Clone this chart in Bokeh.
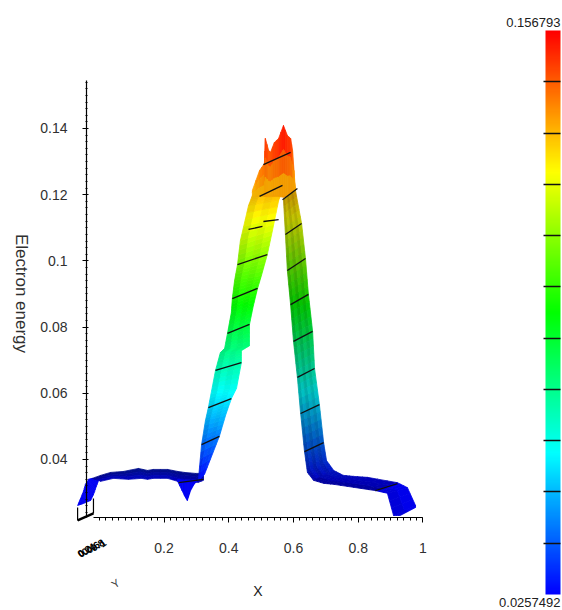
import numpy as np
from bokeh.embed import file_html
from bokeh.models import (ColorBar, FixedTicker, Label, LinearAxis, LinearColorMapper, Range1d)
from bokeh.core.properties import value
from bokeh.plotting import figure
from bokeh.resources import INLINE

# ---- chart values -----------------------------------------------------------
value_min, value_max = 0.0257492, 0.156793
x_ticks = [0.2, 0.4, 0.6, 0.8, 1]
x_tick_labels = ["0.2", "0.4", "0.6", "0.8", "1"]
y_ticks = [0.04, 0.06, 0.08, 0.1, 0.12, 0.14]
y_tick_labels = ["0.04", "0.06", "0.08", "0.1", "0.12", "0.14"]
depth_tick_labels = ["0", "0.2", "0.4", "0.6", "0.8", "1"]
depth_x = [-0.058, -0.046, -0.034, -0.020, -0.006, 0.010]
depth_e = [0.0118, 0.0124, 0.0130, 0.0136, 0.0142, 0.0148]

# each strip: front/back edge of the surface (X, projected energy), one pair per column
tail_ax = [-.067, -.058, -.049, -.043, -.033, -.021]
tail_ae = [.0261, .0282, .0303, .0324, .0340, .0343]
tail_bx = [-.058, -.043, -.027, -.018, -.009, -.002]
tail_be = [.0264, .0270, .0276, .0294, .0319, .0337]

flat_ax = [-.021, .004, .035, .075, .121, .149, .167, .211, .242, .263, .297, .322]
flat_ae = [.0343, .0352, .0361, .0364, .0373, .0367, .0370, .0370, .0364, .0361, .0358, .0358]
flat_bx = [-.002, .004, .044, .090, .130, .149, .167, .211, .242, .263, .306, .322]
flat_be = [.0337, .0334, .0343, .0340, .0343, .0340, .0343, .0343, .0334, .0330, .0331, .0337]

dip_ax = [.242, .263, .272, .282, .291, .300]
dip_ae = [.0340, .0337, .0337, .0337, .0337, .0337]
dip_bx = [.242, .263, .272, .282, .291, .300]
dip_be = [.0334, .0291, .0276, .0306, .0322, .0334]

rise_ax = [.306, .316, .328, .337, .347, .359, .374, .387, .396, .408, .411, .418, .427, .436, .461, .473]
rise_ae = [.0337, .0445, .0518, .0557, .0608, .0669, .0723, .0735, .0781, .0844, .0886, .0941, .0989, .1062, .1167, .1198]
rise_bx = [.325, .371, .390, .408, .424, .439, .439, .464, .464, .476, .489, .501, .519, .535, .554, .560]
rise_be = [.0355, .0470, .0533, .0584, .0615, .0693, .0729, .0744, .0808, .0865, .0917, .0956, .1019, .1092, .1182, .1198]

peak_x = [.473, .495, .510, .513, .523, .529, .541, .554, .569, .581, .591, .597, .606]
peak_top = [.1213, .1273, .1294, .1370, .1334, .1328, .1358, .1370, .1409, .1379, .1370, .1334, .1213]
peak_low = [.1195, .1195, .1195, .1195, .1195, .1195, .1195, .1195, .1192, .1195, .1201, .1207, .1213]

fall_ax = [.569, .575, .581, .591, .600, .612, .622, .634, .643, .662]
fall_ae = [.1185, .1080, .0971, .0868, .0757, .0648, .0539, .0424, .0361, .0337]
fall_bx = [.606, .625, .637, .646, .659, .665, .680, .693, .702, .724]
fall_be = [.1213, .1113, .1007, .0899, .0787, .0675, .0566, .0451, .0397, .0367]

tailr_ax = [.662, .693, .724, .785, .853]
tailr_ae = [.0337, .0328, .0325, .0316, .0306]
tailr_bx = [.724, .754, .785, .829, .921]
tailr_be = [.0367, .0352, .0349, .0346, .0330]

end_ax = [.853, .890, .909, .930]
end_ae = [.0306, .0298, .0231, .0231]
end_bx = [.921, .952, .977, .977]
end_be = [.0330, .0315, .0261, .0255]

# black iso-energy lines across the surface
contour_x0 = [.316, .337, .359, .396, .411, .427, .461, .507, .495, .507, .566, .575, .581, .591, .600, .612, .622, .634, .245, .853]
contour_e0 = [.0445, .0557, .0669, .0781, .0886, .0989, .1095, .1119, .1195, .1291, .1185, .1080, .0971, .0868, .0757, .0648, .0539, .0424, .0330, .0306]
contour_x1 = [.371, .408, .439, .464, .489, .519, .504, .554, .566, .591, .612, .625, .637, .646, .659, .665, .680, .693, .322, .921]
contour_e1 = [.0470, .0584, .0693, .0808, .0917, .1019, .1104, .1125, .1228, .1328, .1219, .1113, .1007, .0899, .0787, .0675, .0566, .0451, .0340, .0327]

# ---- palette and colours ----------------------------------------------------
stops = np.array([[0, 0, 255], [0, 255, 255], [0, 255, 0], [255, 255, 0], [255, 0, 0]], float)
s = np.linspace(0, 4, 256)
rgb = np.array([np.interp(s, range(5), stops[:, c]) for c in range(3)]).T
palette = ["#%02x%02x%02x" % tuple(int(round(v)) for v in c) for c in rgb]


def colour(e, shade):
    t = np.clip((e - 0.0337) / 0.1057, 0, 1)      # projected height -> position on the colour scale
    c = rgb[int(t * 255)] * shade
    return "#%02x%02x%02x" % tuple(int(round(v)) for v in c)


xs, ys, fills = [], [], []


def strip(ax, ae, bx, be, shades, n_along=5):
    ax, ae, bx, be = map(np.asarray, (ax, ae, bx, be))
    m = len(shades)
    for i in range(len(ax) - 1):
        n = n_along
        for k in range(n):
            u0, u1 = k / n, (k + 1) / n
            for j in range(m):
                v0, v1 = j / m, (j + 1) / m
                def pt(u, v):
                    xa = ax[i] + (ax[i + 1] - ax[i]) * u
                    ea = ae[i] + (ae[i + 1] - ae[i]) * u
                    xb = bx[i] + (bx[i + 1] - bx[i]) * u
                    eb = be[i] + (be[i + 1] - be[i]) * u
                    return xa + (xb - xa) * v, ea + (eb - ea) * v
                q = [pt(u0, v0), pt(u1, v0), pt(u1, v1), pt(u0, v1)]
                xs.append([a for a, _ in q])
                ys.append([b for _, b in q])
                fills.append(colour(np.mean([b for _, b in q]), shades[j]))


strip(tail_ax, tail_ae, tail_bx, tail_be, [0.95])
strip(flat_ax, flat_ae, flat_bx, flat_be, [0.55, 0.62, 0.72], n_along=2)
strip(dip_ax, dip_ae, dip_bx, dip_be, [0.95], n_along=3)
strip(rise_ax, rise_ae, rise_bx, rise_be, [0.92, 1.0, 0.97, 1.0])
strip(peak_x, peak_top, peak_x, peak_low, [1.0, 0.97, 0.95], n_along=2)
strip(fall_ax, fall_ae, fall_bx, fall_be, [0.68, 0.76, 0.68, 0.76, 0.70, 0.78])
strip(tailr_ax, tailr_ae, tailr_bx, tailr_be, [0.62, 0.7, 0.72], n_along=3)
strip(end_ax, end_ae, end_bx, end_be, [0.85, 0.92], n_along=3)

# ---- figure -----------------------------------------------------------------
p = figure(width=562, height=610, output_backend="svg", toolbar_location=None,
           x_axis_type=None, y_axis_type=None, min_border=0,
           x_range=Range1d(-0.3052, 1.4310), y_range=Range1d(-0.00562, 0.17867))
p.grid.visible = False
p.outline_line_color = None
p.background_fill_color = "white"

p.patches(xs, ys, fill_color=fills, line_color=fills, line_width=0.8)
p.segment(contour_x0, contour_e0, contour_x1, contour_e1, line_color="#101010", line_width=1.3)

# y axis
y_axis = LinearAxis(fixed_location=-0.0395, bounds=(0.0225, 0.1545),
                    ticker=FixedTicker(ticks=y_ticks, minor_ticks=list(np.arange(0.024, 0.155, 0.002))),
                    major_label_overrides=dict(zip(y_ticks, y_tick_labels)))
y_axis.major_tick_in, y_axis.major_tick_out = 2, 4
y_axis.minor_tick_in, y_axis.minor_tick_out = 1, 1
y_axis.major_label_standoff = 15
y_axis.major_label_text_font = "Liberation Sans"
y_axis.major_label_text_font_size = "14px"
y_axis.major_label_text_color = "#303030"
y_axis.axis_line_width = 1.2
p.add_layout(y_axis, "left")

# x axis
x_axis = LinearAxis(fixed_location=0.0225, bounds=(-0.018, 1),
                    ticker=FixedTicker(ticks=x_ticks, minor_ticks=list(np.arange(0, 1.001, 0.02))),
                    major_label_overrides=dict(zip(x_ticks, x_tick_labels)),
                    axis_label="X")
x_axis.major_tick_in, x_axis.major_tick_out = 0, 5
x_axis.minor_tick_in, x_axis.minor_tick_out = 0, 3
x_axis.major_label_standoff = 21
x_axis.major_label_text_font = "Liberation Sans"
x_axis.major_label_text_font_size = "14px"
x_axis.major_label_text_color = "#303030"
x_axis.axis_label_text_font = "Liberation Sans"
x_axis.axis_label_text_font_size = "14px"
x_axis.axis_label_text_font_style = "normal"
x_axis.axis_label_text_color = "#202020"
x_axis.axis_label_standoff = 26
x_axis.axis_line_width = 1.2
p.add_layout(x_axis, "below")

# depth axis stub and its tick labels
p.line([-0.067, -0.018], [0.0216, 0.0237], line_color="black", line_width=2.5)
p.segment([-0.067, -0.018], [0.0216, 0.0237], [-0.067, -0.018], [0.0255, 0.0282], line_color="black", line_width=1.2)
p.text(depth_x, depth_e, text=depth_tick_labels, text_font=value("Liberation Sans"),
       text_font_size="10px", text_color="black", angle=0.6, text_align="center", text_baseline="middle",
       text_font_style="bold")

# texts
font = "Liberation Sans"
p.add_layout(Label(x=21, y=317, x_units="screen", y_units="screen", text="Electron energy", angle=-np.pi / 2,
                   text_font=font, text_font_size="17px", text_color="#303030",
                   text_align="center", text_baseline="middle"))
p.add_layout(Label(x=115, y=27, x_units="screen", y_units="screen", text="Y", text_font=font,
                   text_font_size="11px", text_color="#404040", angle=0.6,
                   text_align="center", text_baseline="middle"))
p.add_layout(Label(x=560, y=588, x_units="screen", y_units="screen", text="0.156793", text_font=font,
                   text_font_size="13px", text_color="#202020", text_align="right", text_baseline="middle"))
p.add_layout(Label(x=560, y=8, x_units="screen", y_units="screen", text="0.0257492", text_font=font,
                   text_font_size="13px", text_color="#202020", text_align="right", text_baseline="middle"))

# colour bar
mapper = LinearColorMapper(palette=palette, low=value_min, high=value_max)
cb_ticks = [value_min + k * (value_max - value_min) / 11 for k in range(1, 11)]
cb = ColorBar(color_mapper=mapper, location=(545, 16), width=15, height=564, padding=0,
              ticker=FixedTicker(ticks=cb_ticks), major_label_text_color=None,
              major_tick_in=17, major_tick_out=0, major_tick_line_color="#111111", major_tick_line_width=1.3,
              bar_line_color=None, minor_tick_line_color=None, background_fill_color=None, border_line_color=None)
p.add_layout(cb, "center")

open("out.html", "w").write(file_html(p, INLINE))
